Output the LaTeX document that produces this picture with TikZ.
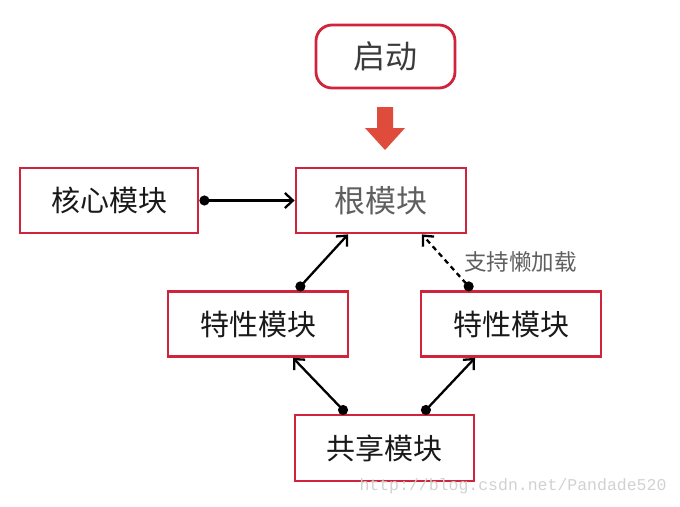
\documentclass[tikz,border=0pt]{standalone}
\usepackage{tikz}
\usepackage{xcolor}
\usepackage{fontspec}
\usetikzlibrary{arrows.meta}
\newfontfamily\cjk{Noto Sans CJK SC}
\newfontfamily\wmfont{Liberation Mono}
\definecolor{boxred}{RGB}{208,36,60}
\definecolor{arrowred}{RGB}{224,76,60}
\definecolor{textgray}{RGB}{95,95,95}
\definecolor{darktext}{RGB}{25,25,25}

\begin{document}
\begin{tikzpicture}[x=1pt, y=-1pt, line join=miter,
        modulenode/.style={shape=rectangle, draw=boxred, line width=2.8pt, fill=white, inner sep=0pt,
                minimum height=65pt, text=darktext, font=\cjk\fontsize{29}{32}\selectfont},
        startnode/.style={modulenode, rounded corners=16pt, minimum width=139pt, minimum height=63pt,
                text=darktext!85, font=\cjk\fontsize{32}{34}\selectfont},
        dotarrow/.style={{Circle[length=10pt, width=10pt]}-{Straight Barb[length=8pt, width=15pt]}, line width=2.3pt, black},
        lazyarrow/.style={dotarrow, dash pattern=on 5pt off 4pt}]
        \useasboundingbox (0, 0) rectangle (680, 506);
        % Boxes
        \node[startnode] (start) at (385.5, 56.5) {启动};
        \node[modulenode, minimum width=170pt, text=textgray, font=\cjk\fontsize{31}{34}\selectfont] (root) at (381, 200.5) {根模块};
        \node[modulenode, minimum width=178pt] (core) at (109, 200.5) {核心模块};
        \node[modulenode, minimum width=180pt] (featureleft) at (258, 324) {特性模块};
        \node[modulenode, minimum width=180pt] (featureright) at (511, 324) {特性模块};
        \node[modulenode, minimum width=179pt, minimum height=66pt] (shared) at (384.5, 448) {共享模块};
        % Big red arrow
        \fill[arrowred] (377, 107) -- (393, 107) -- (393, 128) -- (405, 128) -- (385, 150)
                -- (365, 128) -- (377, 128) -- cycle;
        % Connectors
        \draw[dotarrow] (core.east) -- (root.west);
        \draw[dotarrow] ([xshift=39pt]featureleft.north) -- ([xshift=-33pt]root.south);
        \draw[lazyarrow] ([xshift=-39pt]featureright.north) -- ([xshift=41pt]root.south)
                node[pos=0.5, right=13pt, text=textgray, font=\cjk\fontsize{22.5}{24}\selectfont] (lazylabel) {支持懒加载};
        \draw[dotarrow] ([xshift=-38pt]shared.north) -- ([xshift=35pt]featureleft.south);
        \draw[dotarrow] ([xshift=38pt]shared.north) -- ([xshift=-36pt]featureright.south);
        % Watermark
        \node[anchor=east, text=black!18, font=\wmfont\fontsize{16.5}{18}\selectfont] (watermark) at (670, 486) {http://blog.csdn.net/Pandade520};
\end{tikzpicture}
\end{document}
